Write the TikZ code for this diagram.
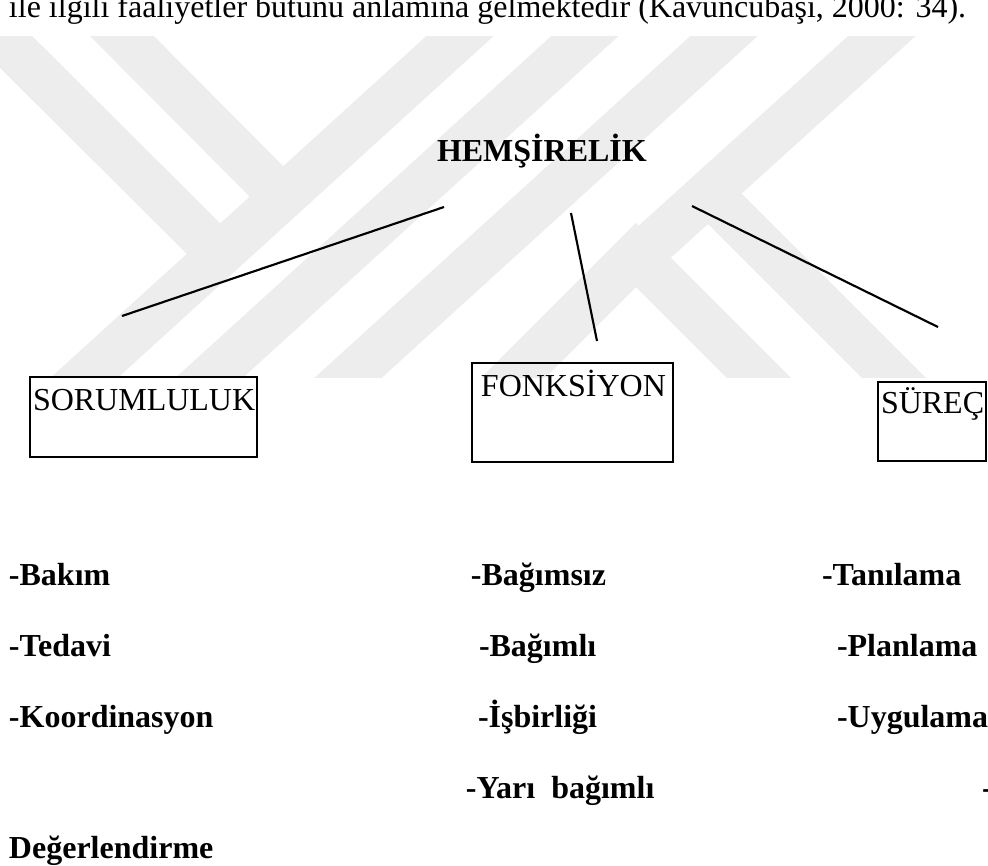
\documentclass[tikz,border=0pt]{standalone}
\usepackage{fontspec}
\setmainfont{Liberation Serif}
\usepackage{tikz}
\usetikzlibrary{positioning}
\newcommand{\linew}{0.8pt}
\newcommand{\wmarkw}{17pt}
\newcommand{\yazi}{\fontsize{12}{14}\selectfont}

\begin{document}
\begin{tikzpicture}[x=0.375pt,y=-0.375pt,
        every node/.style={inner sep=0pt, outer sep=0pt, font=\yazi},
        metin/.style={anchor=base west},
        madde/.style={anchor=base west, font=\yazi\bfseries},
        kutu/.style={draw, line width=\linew, anchor=north west},
        kol/.style={line width=\linew},
        wmark/.style={line width=\wmarkw, draw=black!7, line join=miter}]
                %\draw[help lines] (0,0) grid[step=50] (988,866);
                \useasboundingbox (0,0) rectangle (988,866);
                % watermark
                \begin{scope}
                        \clip (0,36) rectangle (988,377);
                        \draw[wmark] (63,397) -- (482,16);
                        \draw[wmark] (188,397) -- (607,16);
                        \draw[wmark] (327,397) -- (746,16);
                        \draw[wmark] (-22,14) -- (215,250);
                        \draw[wmark] (100,14) -- (275,190);
                        \draw[wmark] (494,397) -- (636,255) -- (778,397);
                        \draw[wmark] (650,246) -- (904,16);
                        \draw[wmark] (706,190) -- (913,397);
                \end{scope}
                \node[metin] (ust) at (9,17) {ile ilgili faaliyetler bütünü anlamına gelmektedir (Kavuncubaşı, 2000: 34).};
                \node[madde] (hems) at (437,161) {HEMŞİRELİK};
                % kutular
                \node[kutu, minimum width=85.1pt, minimum height=30pt] (sorum) at (30,377) {};
                \node[kutu, minimum width=75.4pt, minimum height=37.1pt] (fonk) at (472,363) {};
                \node[kutu, minimum width=40.5pt, minimum height=29.6pt] (surec) at (878,382) {};
                \node[metin] (sorumt) at (33,410) {SORUMLULUK};
                \node[metin] (fonkt) at (481,396) {FONKSİYON};
                \node[metin] (surect) at (881,413) {SÜREÇ};
                % kollar
                \coordinate (h1) at (444,207);
                \coordinate (s1) at (122,316);
                \coordinate (h2) at (571,213);
                \coordinate (f1) at (597,341);
                \coordinate (h3) at (692,206);
                \coordinate (r1) at (938,327);
                \draw[kol] (h1) -- (s1);
                \draw[kol] (h2) -- (f1);
                \draw[kol] (h3) -- (r1);
                % maddeler
                \node[madde] (bakim) at (9,585) {-Bakım};
                \node[madde] (tedavi) at (9,656) {-Tedavi};
                \node[madde] (koord) at (9,727) {-Koordinasyon};
                \node[madde] (degr) at (9,858) {Değerlendirme};
                \node[madde] (bagsiz) at (471,585) {-Bağımsız};
                \node[madde] (bagli) at (479,656) {-Bağımlı};
                \node[madde] (isbir) at (478,727) {-İşbirliği};
                \node[madde] (yari) at (466,798) {-Yarı\ \ bağımlı};
                \node[madde] (tani) at (822,585) {-Tanılama};
                \node[madde] (plan) at (837,656) {-Planlama};
                \node[madde] (uyg) at (837,727) {-Uygulama};
                \node[madde] (tire) at (982,798) {-};
        \end{tikzpicture}
\end{document}
